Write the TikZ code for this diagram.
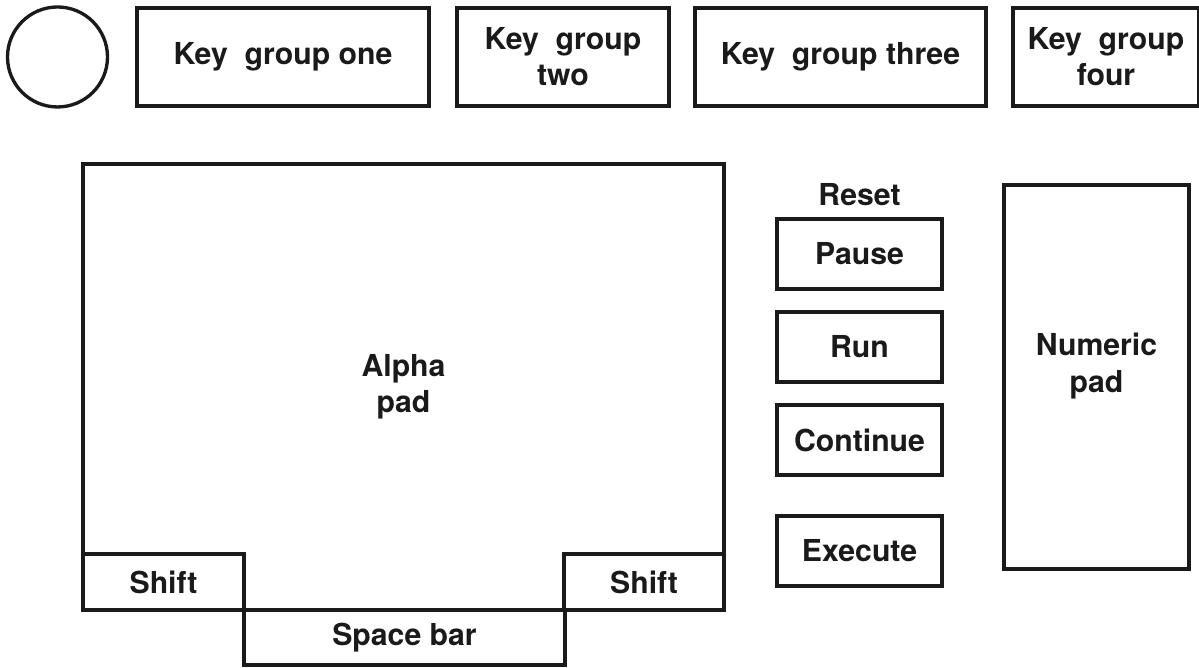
\documentclass[tikz,border=0pt]{standalone}
\usepackage{fontspec}
\setmainfont{TeX Gyre Heros}
\usepackage{xcolor}
\usetikzlibrary{positioning}
\definecolor{ink}{HTML}{1A1A1A}
\tikzset{
  keytext/.style={align=center, text=ink, font=\fontsize{8.6pt}{10.3pt}\selectfont\bfseries},
  key/.style={keytext, draw=ink, line width=.95pt, inner sep=0pt, outer sep=0pt},
  group/.style={key, minimum height=.98cm},
  ctrl/.style={key, minimum width=1.65cm, minimum height=.70cm},
  caption/.style={text=ink, inner sep=0pt, font=\fontsize{8.6pt}{10.3pt}\selectfont\bfseries}
}

\begin{document}
\begin{tikzpicture}[x=1cm,y=1cm]
  \useasboundingbox (0,0) rectangle (11.99,6.68);
  % top row: round key and the four key groups
  \node[key,circle,minimum size=1cm] (dial) at (0.575,6.11) {};
  \node[group,minimum width=2.92cm] (grpone) at (2.83,6.11) {Key\ \ group one};
  \node[group,minimum width=2.12cm] (grptwo) at (5.63,6.11) {Key\ \ group\\two};
  \node[group,minimum width=2.91cm] (grpthree) at (8.405,6.11) {Key\ \ group three};
  \node[group,minimum width=1.86cm] (grpfour) at (11.06,6.11) {Key\ \ group\\four};

  % alpha pad, shift keys in its lower corners, space bar below
  \node[key,minimum width=6.41cm,minimum height=4.46cm] (alpha) at (4.035,2.81) {Alpha\\pad};
  \node[key,anchor=south west,minimum width=1.61cm,minimum height=.56cm] (lshift) at (alpha.south west) {Shift};
  \node[key,anchor=south east,minimum width=1.60cm,minimum height=.56cm] (rshift) at (alpha.south east) {Shift};
  \node[key,anchor=north west,minimum width=3.21cm,minimum height=.55cm] (space) at (lshift.south east) {Space bar};

  % control column
  \node[ctrl] (pause) at (8.595,4.14) {Pause};
  \node[caption,above=.13cm of pause] (reset) {Reset};
  \node[ctrl,below=.23cm of pause] (run) {Run};
  \node[ctrl,below=.23cm of run] (cont) {Continue};
  \node[ctrl,below=.41cm of cont] (exec) {Execute};

  % numeric pad, text sits a little above the middle
  \node[key,minimum width=1.85cm,minimum height=3.84cm,
        label={[keytext,yshift=.11cm]center:Numeric\\pad}] (numpad) at (10.965,2.91) {};
\end{tikzpicture}
\end{document}
